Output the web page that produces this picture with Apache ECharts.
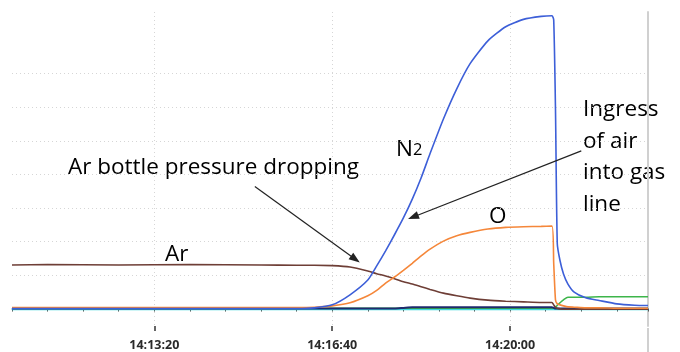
<!DOCTYPE html>
<html>
<head>
<meta charset="utf-8">
<script src="https://cdn.jsdelivr.net/npm/echarts@6/dist/echarts.min.js"></script>
<style>
  html, body { margin: 0; padding: 0; background: #fff; }
  #chart { width: 680px; height: 352px; }
</style>
</head>
<body>
<div id="chart"></div>
<script>
// seconds since midnight of the first sample (14:10:40)
const T0 = 51040;
const T_END = 51755;

// sample times, seconds after 14:10:40
const times = [0, 40, 120, 200, 280, 320, 340, 360, 380, 400, 410, 420, 430, 440, 450, 460,
  470, 485, 500, 515, 535, 555, 575, 595, 607, 609, 611, 613, 616, 620, 625, 632, 645, 660,
  680, 700, 715];

// signal levels (arbitrary units, one unit = one grid row)
const n2 = [0, 0, 0, 0, 0, 0, 0.02, 0.11, 0.41, 0.85, 1.27, 1.72, 2.20, 2.70, 3.26, 3.90,
  4.62, 5.65, 6.55, 7.30, 7.98, 8.40, 8.62, 8.71, 8.73, 8.60, 5.94, 1.94, 1.44, 1.03, 0.73,
  0.49, 0.32, 0.24, 0.14, 0.10, 0.09];
const oxy = [0.03, 0.03, 0.03, 0.03, 0.03, 0.03, 0.04, 0.08, 0.17, 0.38, 0.54, 0.76, 0.94,
  1.14, 1.35, 1.57, 1.77, 2.01, 2.17, 2.27, 2.37, 2.42, 2.44, 2.45, 2.46, 1.35, 0.26, 0.14,
  0.11, 0.08, 0.05, 0.04, 0.02, 0.02, 0.01, 0.01, 0.01];
const ar = [1.30, 1.31, 1.30, 1.31, 1.30, 1.29, 1.29, 1.28, 1.24, 1.12, 1.04, 0.97, 0.89,
  0.80, 0.73, 0.65, 0.57, 0.46, 0.38, 0.31, 0.25, 0.22, 0.20, 0.18, 0.18, 0.11, 0.04, 0.01,
  -0.01, -0.02, -0.02, -0.02, -0.02, -0.02, -0.02, -0.02, -0.02];
const green = [0.01, 0.01, 0.01, 0.01, 0.01, 0.01, 0.01, 0.01, 0.01, 0.01, 0.01, 0.01, 0.01,
  0.01, 0.01, 0.01, 0.01, 0.01, 0.01, 0.01, 0.01, 0.01, 0.01, 0.01, 0.01, 0.01, 0.03, 0.10,
  0.17, 0.26, 0.34, 0.34, 0.34, 0.35, 0.35, 0.35, 0.35];
const navy = [0, 0, 0, 0, 0, 0, 0, 0, 0, 0, 0, 0, 0, 0.02, 0.04, 0.04, 0.04, 0.04, 0.04,
  0.04, 0.04, 0.04, 0.04, 0.04, 0.04, 0.02, 0, 0, 0, 0, 0, 0, 0, 0, 0, 0, 0];
const cyan = [-0.03, -0.03, -0.03, -0.03, -0.03, -0.03, -0.03, -0.03, -0.03, -0.03, -0.03,
  -0.03, -0.03, -0.03, -0.03, -0.03, -0.03, -0.03, -0.03, -0.03, -0.03, -0.03, -0.03, -0.03,
  -0.03, -0.03, -0.03, -0.03, -0.03, -0.03, -0.03, -0.03, -0.03, -0.03, -0.03, -0.03, -0.03];

// labelled time ticks and horizontal grid rows
const majorTicks = [51200, 51400, 51600];
const gridRows = [0, 1, 2, 3, 4, 5, 6, 7, 8];

// annotation arrows: [time, level] -> [time, level]
const arrowBottle = [[51313, 3.64], [51426, 1.47]];
const arrowIngress = [[51680, 4.70], [51491, 2.73]];

const pairs = vals => times.map((t, i) => [T0 + t, vals[i]]);

const hms = v => {
  const h = Math.floor(v / 3600), m = Math.floor((v % 3600) / 60), s = v % 60;
  const p = n => String(n).padStart(2, '0');
  return h + ':' + p(m) + ':' + p(s);
};

const lineSeries = (name, vals, color, width) => ({
  name: name,
  type: 'line',
  data: pairs(vals),
  showSymbol: false,
  smooth: 0.2,
  lineStyle: { color: color, width: width || 1.5 },
  itemStyle: { color: color }
});

const chart = echarts.init(document.getElementById('chart'));

const textFont = '22.5px "Open Sans"';

chart.setOption({
  animation: false,
  backgroundColor: '#fff',
  grid: { left: 12, right: 32, top: 12, bottom: 24 },
  xAxis: [
    {
      type: 'value',
      min: T0,
      max: T_END,
      interval: 40,
      axisLine: { lineStyle: { color: '#a9cfee', width: 2 } },
      axisTick: { length: 3, lineStyle: { color: '#555' } },
      axisLabel: { show: false },
      splitLine: { show: false }
    },
    {
      type: 'value',
      position: 'bottom',
      min: T0,
      max: T_END,
      axisLine: { show: false },
      axisTick: { customValues: majorTicks, length: 5, lineStyle: { color: '#333', width: 1.5 } },
      axisLabel: {
        customValues: majorTicks,
        formatter: v => hms(v),
        margin: 13,
        fontFamily: 'Open Sans',
        fontWeight: 'bold',
        fontSize: 12.5,
        color: '#2a2a2a'
      },
      splitLine: { show: true, lineStyle: { color: '#d6d6d6', type: [1, 3], width: 1 } }
    }
  ],
  yAxis: {
    type: 'value',
    position: 'right',
    min: -0.52,
    max: 8.84,
    axisLine: { show: true, lineStyle: { color: '#d0d0d0', width: 2 } },
    axisTick: { show: false, customValues: gridRows },
    axisLabel: { show: false },
    splitLine: { show: true, showMinLine: false, showMaxLine: false,
      lineStyle: { color: '#d6d6d6', type: [1, 3], width: 1 } }
  },
  series: [
    Object.assign(lineSeries('cyan', cyan, '#3fd8dc', 1.5), {
      markLine: {
        silent: true,
        symbol: ['none', 'triangle'],
        symbolSize: [8, 11],
        label: { show: false },
        lineStyle: { color: '#222', width: 1.2, type: 'solid' },
        data: [
          [{ coord: arrowBottle[0] }, { coord: arrowBottle[1] }],
          [{ coord: arrowIngress[0] }, { coord: arrowIngress[1] }]
        ]
      }
    }),
    lineSeries('green', green, '#3db54a', 1.5),
    lineSeries('navy', navy, '#1f2a6e', 2),
    lineSeries('Ar', ar, '#6e3e36', 1.6),
    lineSeries('O', oxy, '#f5873a', 1.6),
    lineSeries('N2', n2, '#3d5fd8', 1.6)
  ],
  graphic: [
    { type: 'line', shape: { x1: 648, y1: 328, x2: 648, y2: 352 }, style: { stroke: '#d0d0d0', lineWidth: 2 } },
    { type: 'text', x: 68, y: 168, style: { text: 'Ar bottle pressure dropping', font: textFont, fill: '#000', verticalAlign: 'middle' } },
    { type: 'text', x: 396, y: 150, style: { text: '{a|N}{b|2}', fill: '#000', verticalAlign: 'middle',
      rich: { a: { fontSize: 22.5, fontFamily: 'Open Sans', fill: '#000' }, b: { fontSize: 16.5, fontFamily: 'Open Sans', fill: '#000' } } } },
    { type: 'text', x: 489, y: 216.5, style: { text: 'O', font: textFont, fill: '#000', verticalAlign: 'middle' } },
    { type: 'text', x: 165, y: 255, style: { text: 'Ar', font: textFont, fill: '#000', verticalAlign: 'middle' } },
    { type: 'text', x: 583, y: 94, style: { text: 'Ingress\nof air\ninto gas\nline', font: textFont, fill: '#000', verticalAlign: 'top', lineHeight: 31.5 } }
  ]
});
</script>
</body>
</html>
